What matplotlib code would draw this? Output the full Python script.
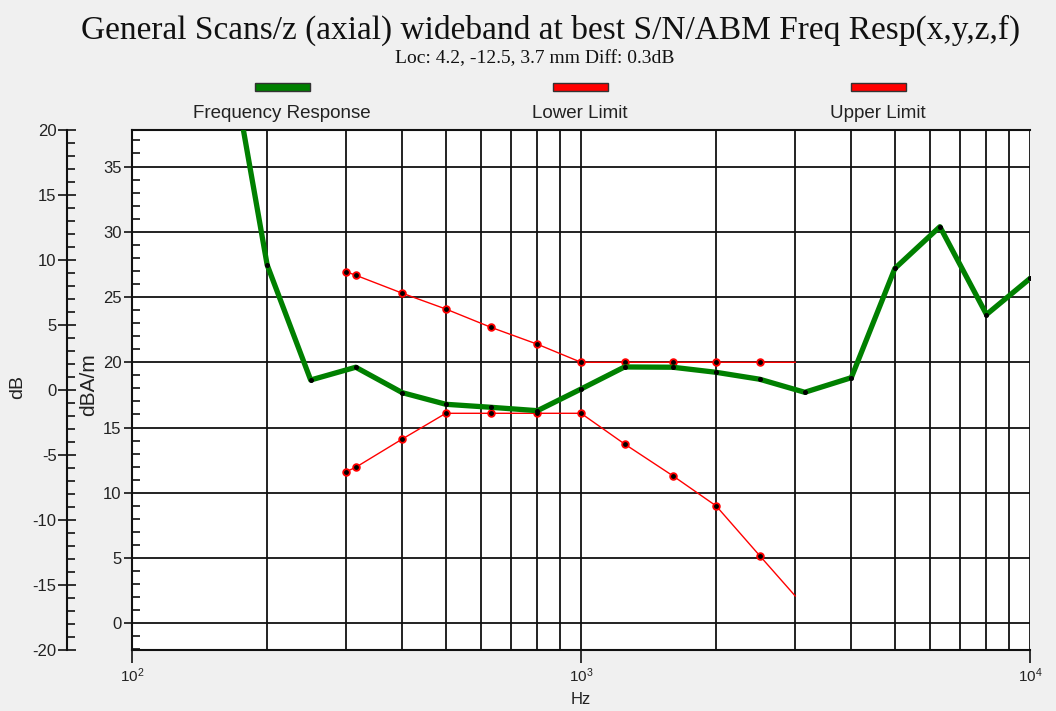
import matplotlib
matplotlib.use("Agg")
import matplotlib.pyplot as plt
from matplotlib.ticker import LogLocator, MultipleLocator, NullFormatter
from matplotlib.patches import Rectangle

# ---- data (dBA/m vs Hz) ----
resp_freq = [160, 200, 250, 315, 400, 500, 630, 800, 1000, 1250, 1600, 2000,
             2500, 3150, 4000, 5000, 6300, 8000, 10000]
resp_val = [46.4, 27.46, 18.64, 19.62, 17.67, 16.78, 16.55, 16.29, 17.95, 19.64,
            19.62, 19.23, 18.7, 17.7, 18.82, 27.19, 30.39, 23.66, 26.42]

upper_freq = [300, 315, 400, 500, 630, 800, 1000, 1250, 1600, 2000, 2500, 3000]
upper_val = [26.94, 26.67, 25.29, 24.08, 22.68, 21.38, 20.0, 20.0, 20.0, 20.0, 20.0, 20.0]

lower_freq = [300, 315, 400, 500, 630, 800, 1000, 1250, 1600, 2000, 2500, 3000]
lower_val = [11.62, 11.95, 14.12, 16.09, 16.09, 16.09, 16.09, 13.74, 11.31, 8.99, 5.18, 2.09]

legend_labels = ["Frequency Response", "Lower Limit", "Upper Limit"]
legend_colors = ["#008000", "#ff0000", "#ff0000"]

title = "General Scans/z (axial) wideband at best S/N/ABM Freq Resp(x,y,z,f)"
subtitle = "Loc: 4.2, -12.5, 3.7 mm Diff: 0.3dB"

BG = "#f0f0f0"
TXT = "#222222"
plt.rcParams["font.family"] = ["Liberation Sans", "DejaVu Sans"]
plt.rcParams["axes.unicode_minus"] = False

W, H = 1056, 711
fig = plt.figure(figsize=(W / 100, H / 100), dpi=100, facecolor=BG)
L, R, T, B = 132, 1030, 130, 650
ax = fig.add_axes([L / W, 1 - B / H, (R - L) / W, (B - T) / H])
ax.set_facecolor("white")

ax.set_xscale("log")
ax.set_xlim(100, 10000)
ax.set_ylim(-2.05, 37.8)

# grid
ax.xaxis.set_major_locator(LogLocator(base=10, numticks=10))
ax.xaxis.set_minor_locator(LogLocator(base=10, subs=range(2, 10), numticks=20))
ax.xaxis.set_minor_formatter(NullFormatter())
ax.yaxis.set_major_locator(MultipleLocator(5))
ax.yaxis.set_minor_locator(MultipleLocator(1))
ax.grid(True, which="major", axis="both", color="#111111", lw=1.3, zorder=1)
ax.grid(True, which="minor", axis="x", color="#111111", lw=1.3, zorder=1)
ax.set_axisbelow(True)

ax.tick_params(axis="x", which="major", direction="out", length=9, width=1.2,
               colors="#111111", labelcolor=TXT, labelsize=11, pad=3)
ax.tick_params(axis="x", which="minor", length=0)
ax.tick_params(axis="y", which="major", direction="out", length=5.5, width=1.2,
               colors="#111111", labelcolor=TXT, labelsize=12, pad=2)
ax.tick_params(axis="y", which="minor", direction="in", length=5.5, width=1.2,
               colors="#111111")
ax.spines["right"].set_visible(False)
for s in ["left", "bottom", "top"]:
    ax.spines[s].set_linewidth(1.5)
    ax.spines[s].set_color("#111111")

# data lines
ax.plot(upper_freq, upper_val, color="#ff0000", lw=1.0, zorder=3)
ax.plot(upper_freq[:-1], upper_val[:-1], ls="none", marker="o", ms=4.8,
        mfc="black", mec="#ff0000", mew=1.3, zorder=4)
ax.plot(lower_freq, lower_val, color="#ff0000", lw=1.0, zorder=3)
ax.plot(lower_freq[:-1], lower_val[:-1], ls="none", marker="o", ms=4.8,
        mfc="black", mec="#ff0000", mew=1.3, zorder=4)
ax.plot(resp_freq, resp_val, color="#008000", lw=3.8, zorder=5,
        solid_joinstyle="round")
ax.plot(resp_freq, resp_val, ls="none", marker="o", ms=2.6, color="black",
        zorder=6)

ax.set_xlabel("Hz", fontsize=12, color=TXT, labelpad=5)
ax.set_ylabel("dBA/m", fontsize=15, color=TXT)
ax.yaxis.set_label_coords(-0.038, 0.51)

# secondary dB axis
ax2 = ax.twinx()
ax2.set_ylim(-20, 20)
ax2.spines["left"].set_position(("axes", (67 - L) / (R - L)))
ax2.spines["left"].set_visible(True)
ax2.spines["left"].set_linewidth(1.5)
ax2.spines["left"].set_color("#111111")
for s in ["top", "right", "bottom"]:
    ax2.spines[s].set_visible(False)
ax2.yaxis.set_ticks_position("left")
ax2.yaxis.set_label_position("left")
ax2.yaxis.set_major_locator(MultipleLocator(5))
ax2.yaxis.set_minor_locator(MultipleLocator(1))
ax2.tick_params(axis="y", which="major", direction="inout", length=13, width=1.2,
                colors="#111111", labelcolor=TXT, labelsize=12, pad=1)
ax2.tick_params(axis="y", which="minor", direction="in", length=5.5, width=1.2,
                colors="#111111")
ax2.set_ylabel("dB", fontsize=14, color=TXT)
ax2.yaxis.set_label_coords((26 - L) / (R - L), 0.505)

# titles
fig.text(551 / W, 1 - 30 / H, title, ha="center", va="center",
         family=["Liberation Serif", "DejaVu Serif"], fontsize=24, color="#111111")
fig.text(535 / W, 1 - 59 / H, subtitle, ha="center", va="center",
         family=["Liberation Serif", "DejaVu Serif"], fontsize=14, color="#111111")

# legend
centers = [282, 580, 878]
for cx, lab, col in zip(centers, legend_labels, legend_colors):
    fig.patches.append(Rectangle(((cx - 27) / W, 1 - 91 / H), 55 / W, 8 / H,
                                 transform=fig.transFigure, facecolor=col,
                                 edgecolor="#333333", lw=1.0))
    fig.text(cx / W, 1 - 113 / H, lab, ha="center", va="center",
             fontsize=13.5, color=TXT)

fig.savefig("out.png", dpi=100, facecolor=BG)
